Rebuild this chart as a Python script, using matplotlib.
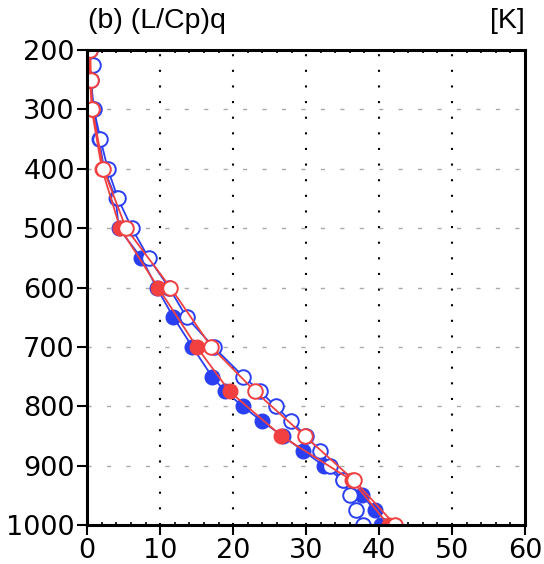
import numpy as np
import matplotlib
matplotlib.use('Agg')
import matplotlib.pyplot as plt
from matplotlib.ticker import MultipleLocator

# pressure levels [hPa]
p_blue = [1000, 975, 950, 925, 900, 875, 850, 825, 800, 775, 750, 700, 650, 600,
          550, 500, 450, 400, 350, 300, 250, 225, 200]
blue_fill = [40.3, 39.4, 37.7, 35.1, 32.4, 29.6, 26.8, 23.9, 21.3, 18.9, 17.1, 14.4, 11.8, 9.5,
             7.4, 4.3, 3.9, 2.3, 1.6, 0.8, 0.4, 0.6, 0.2]
blue_open = [37.8, 36.9, 36.0, 35.1, 33.3, 31.9, 30.0, 27.9, 25.8, 23.7, 21.4, 17.3, 13.6, 11.2,
             8.4, 6.1, 4.2, 2.8, 1.8, 0.9, 0.5, 0.8, 0.3]

p_red = [1000, 925, 850, 775, 700, 600, 500, 400, 300, 250, 200]
red_fill = [41.3, 36.3, 26.6, 19.5, 15.0, 9.7, 4.5, 2.0, 0.6, 0.4, 0.2]
red_open = [42.2, 36.6, 29.8, 23.0, 17.0, 11.4, 5.3, 2.2, 0.7, 0.5, 0.4]

blue = '#2a3ff2'
red = '#f23f3f'

fig = plt.figure(figsize=(5.44, 5.64), dpi=100)
ax = fig.add_axes([0.1605, 0.0691, 0.8045, 0.8422])

ms = 10.5
ax.plot(blue_fill, p_blue, '-o', color=blue, lw=1.3, ms=ms, mfc=blue, mec=blue, zorder=3)
ax.plot(blue_open, p_blue, '-o', color=blue, lw=1.3, ms=ms, mfc='white', mec=blue, mew=1.4, zorder=4)
ax.plot(red_fill, p_red, '-o', color=red, lw=1.3, ms=ms, mfc=red, mec=red, zorder=5)
ax.plot(red_open, p_red, '-o', color=red, lw=1.3, ms=ms, mfc='white', mec=red, mew=1.4, zorder=6)

ax.set_xlim(0, 60)
ax.set_ylim(1000, 200)
ax.set_xticks(np.arange(0, 61, 10))
ax.set_yticks(np.arange(200, 1001, 100))
ax.xaxis.set_minor_locator(MultipleLocator(2))

# grid
for xv in range(10, 60, 10):
    ax.axvline(xv, color='black', lw=1.5, ls=(0, (1, 6.5)), zorder=1)
for yv in range(300, 1000, 100):
    ax.axhline(yv, color='#aaaaaa', lw=1.0, ls=(0, (3, 11)), zorder=1)

for s in ax.spines.values():
    s.set_linewidth(2.2)
    s.set_zorder(10)

ax.tick_params(axis='both', which='major', direction='out', length=7, width=1.5,
               labelsize=19.5, pad=2)
ax.tick_params(axis='x', which='minor', direction='in', length=2.5, width=1.2,
               top=True, bottom=True)
for lab in ax.get_xticklabels() + ax.get_yticklabels():
    lab.set_family('DejaVu Sans')

fig.text(0.162, 0.94, '(b) (L/Cp)q', fontsize=20.5, family='Liberation Sans', ha='left', va='bottom')
fig.text(0.965, 0.94, '[K]', fontsize=20.5, family='Liberation Sans', ha='right', va='bottom')

fig.savefig('out.png', dpi=100)
